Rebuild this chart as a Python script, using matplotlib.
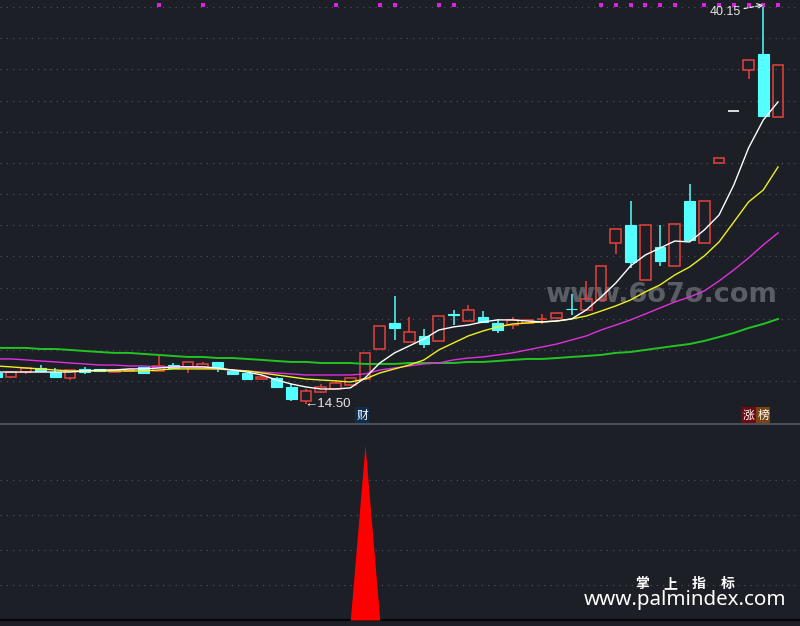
import numpy as np
import matplotlib.pyplot as plt
from matplotlib.patches import Rectangle
import matplotlib.transforms as mtransforms

plt.rcParams['font.family'] = ['Noto Sans CJK SC', 'DejaVu Sans']

# daily bars, oldest first (the first one is cut by the left edge)
opens = [16.50, 16.24, 16.56, 16.82, 16.56, 16.18, 16.76, 16.76, 16.56, 16.63,
         16.89, 16.63, 17.04, 16.89, 16.89, 17.21, 16.63, 16.50, 16.11, 16.18,
         15.60, 14.70, 15.28, 15.47, 15.73, 16.11, 18.04, 19.71, 18.49, 18.88,
         18.56, 20.26, 19.84, 20.10, 19.71, 19.58, 19.71, 19.95, 20.03, 20.64,
         20.55, 21.19, 24.85, 26.01, 22.48, 24.60, 23.38, 27.55, 24.85, 30.00,
         33.34, 35.97, 37.00, 32.95]
highs = [16.50, 16.56, 16.82, 17.01, 16.82, 16.69, 16.89, 16.76, 16.69, 16.69,
         16.89, 17.59, 17.14, 17.18, 17.21, 17.21, 16.63, 16.50, 16.37, 16.24,
         15.79, 15.47, 15.79, 16.05, 16.18, 17.79, 19.52, 21.45, 20.10, 19.33,
         20.16, 20.55, 20.87, 20.48, 19.97, 20.10, 19.91, 20.29, 20.36, 21.58,
         22.41, 23.38, 25.75, 27.55, 26.01, 26.01, 26.08, 28.65, 27.55, 30.32,
         33.34, 36.62, 40.15, 36.29]
lows = [16.24, 16.18, 16.44, 16.63, 16.24, 16.05, 16.44, 16.63, 16.56, 16.63,
        16.50, 16.63, 16.76, 16.50, 16.89, 16.56, 16.44, 16.05, 16.11, 15.54,
        14.70, 14.50, 15.22, 15.47, 15.73, 16.11, 18.04, 18.62, 18.49, 18.11,
        18.56, 19.58, 19.84, 19.71, 19.07, 19.33, 19.71, 19.65, 20.03, 20.23,
        20.55, 21.19, 24.15, 23.25, 22.48, 23.38, 23.38, 25.05, 24.85, 30.00,
        33.34, 35.39, 33.02, 32.95]
closes = [16.24, 16.56, 16.82, 16.63, 16.24, 16.69, 16.56, 16.63, 16.69, 16.69,
          16.50, 16.95, 16.82, 17.18, 17.08, 16.89, 16.44, 16.11, 16.24, 15.60,
          14.83, 15.34, 15.60, 15.86, 16.18, 17.79, 19.52, 19.39, 19.14, 18.36,
          20.16, 20.20, 20.55, 19.78, 19.26, 19.91, 19.91, 19.99, 20.36, 20.58,
          21.26, 23.38, 25.75, 23.63, 26.01, 23.70, 26.08, 25.05, 27.55, 30.32,
          33.34, 36.62, 33.02, 36.29]

# moving averages
ma5 = [16.56, 16.56, 16.56, 16.56, 16.56, 16.56, 16.63, 16.69, 16.69, 16.76,
       16.76, 16.82, 16.89, 16.89, 16.89, 16.82, 16.69, 16.56, 16.37, 16.05,
       15.79, 15.60, 15.47, 15.47, 15.54, 16.18, 17.14, 17.79, 18.24, 18.69,
       19.26, 19.46, 19.58, 19.78, 19.91, 19.91, 19.84, 19.78, 19.84, 19.97,
       20.55, 21.38, 22.28, 23.38, 24.08, 24.53, 24.98, 24.92, 25.69, 26.65,
       28.58, 30.96, 32.76, 33.92]
ma10 = [16.95, 16.89, 16.82, 16.76, 16.69, 16.63, 16.63, 16.63, 16.63, 16.63,
        16.63, 16.69, 16.76, 16.76, 16.76, 16.76, 16.69, 16.63, 16.50, 16.37,
        16.24, 16.11, 16.05, 15.99, 15.92, 16.11, 16.50, 16.76, 17.01, 17.34,
        17.98, 18.43, 18.88, 19.20, 19.46, 19.65, 19.71, 19.78, 19.84, 19.97,
        20.16, 20.48, 20.81, 21.19, 21.71, 22.16, 22.80, 23.31, 24.02, 24.92,
        26.20, 27.49, 28.26, 29.74]
ma20 = [17.40, 17.40, 17.34, 17.27, 17.21, 17.14, 17.08, 17.01, 17.01, 16.95,
        16.95, 16.89, 16.89, 16.89, 16.82, 16.76, 16.69, 16.63, 16.56, 16.50,
        16.44, 16.37, 16.37, 16.37, 16.37, 16.44, 16.69, 16.82, 16.95, 17.08,
        17.14, 17.34, 17.46, 17.53, 17.66, 17.79, 17.98, 18.17, 18.36, 18.62,
        18.88, 19.26, 19.58, 19.91, 20.29, 20.68, 21.06, 21.38, 21.77, 22.41,
        23.12, 23.89, 24.73, 25.50]
ma60 = [18.11, 18.11, 18.11, 18.04, 18.04, 17.98, 17.91, 17.85, 17.79, 17.79,
        17.72, 17.66, 17.59, 17.53, 17.53, 17.46, 17.46, 17.40, 17.34, 17.27,
        17.21, 17.21, 17.14, 17.14, 17.14, 17.08, 17.08, 17.08, 17.14, 17.14,
        17.14, 17.14, 17.21, 17.21, 17.27, 17.34, 17.40, 17.40, 17.46, 17.53,
        17.59, 17.66, 17.79, 17.85, 17.98, 18.11, 18.24, 18.36, 18.56, 18.81,
        19.07, 19.39, 19.65, 19.97]

# lower indicator: one spike on the breakout day
signal = [0] * 25 + [1] + [0] * 28
dot_days = [11, 14, 23, 26, 27, 30, 31, 41, 42, 43, 44, 45, 46, 48, 49, 50, 51, 52, 53]
tag_cai = 25
tag_zhang = 51
tag_bang = 52
brand_chars = ['掌', '上', '指', '标']

bg = '#1c1f26'
up_c = '#e8403a'
dn_c = '#54ffff'
grid_c = '#4a4e56'

fig = plt.figure(figsize=(8, 6.26), dpi=100, facecolor=bg)
ax = fig.add_axes([0, (626 - 424) / 626, 1, 424 / 626])
ax2 = fig.add_axes([0, 6 / 626, 1, (620 - 424) / 626])
for a in (ax, ax2):
    a.set_facecolor(bg)
    a.set_xticks([])
    a.set_yticks([])
    for s in a.spines.values():
        s.set_visible(False)

n = len(closes)
x = np.arange(n)
ax.set_xlim(0.25, 54.49)
ax.set_ylim(13.22, 40.47)
ax2.set_xlim(0.25, 54.49)
ax2.set_ylim(0, 1.12)

# dotted grid
for f in np.linspace(1 - 7 / 424, 1 - 381 / 424, 13):
    ax.plot([0, 1], [f, f], transform=ax.transAxes, color=grid_c, lw=0.9,
            ls=(0, (1, 4)), zorder=0)
for f in [140 / 196, 105 / 196, 70 / 196, 35 / 196]:
    ax2.plot([0, 1], [f, f], transform=ax2.transAxes, color=grid_c, lw=0.9,
             ls=(0, (1, 4)), zorder=0)

# watermark (sits under the candles and lines)
ax.text(661 / 800, 1 - 302 / 424, 'www.6o7o.com', transform=ax.transAxes,
        ha='center', va='baseline', fontsize=19.5, fontweight='bold',
        color='#5a5d63', family='DejaVu Sans', zorder=1)

w = 0.72
for i in range(n):
    o, h, l, c = opens[i], highs[i], lows[i], closes[i]
    if o == c:
        ax.hlines(o, i - w / 2, i + w / 2, color='white', lw=1.2, zorder=3)
        continue
    if c > o:
        ax.vlines(i, c, h, color=up_c, lw=1.1, zorder=2)
        ax.vlines(i, l, o, color=up_c, lw=1.1, zorder=2)
        ax.add_patch(Rectangle((i - w / 2, o), w, c - o, facecolor='none',
                               edgecolor=up_c, lw=1.1, zorder=2))
    else:
        ax.vlines(i, l, h, color=dn_c, lw=1.1, zorder=2)
        ax.add_patch(Rectangle((i - w / 2, c), w, o - c, facecolor=dn_c,
                               edgecolor=dn_c, lw=0.8, zorder=2))

ax.plot(x, ma60, color='#22c422', lw=1.4, zorder=4)
ax.plot(x, ma20, color='#e030e0', lw=1.0, zorder=4)
ax.plot(x, ma10, color='#f0f020', lw=1.0, zorder=4)
ax.plot(x, ma5, color='white', lw=1.0, zorder=4)

# signal dots along the top
top = mtransforms.blended_transform_factory(ax.transData, ax.transAxes)
ax.scatter(dot_days, [1 - 4.5 / 424] * len(dot_days), marker='s', s=7,
           color='#e020e0', transform=top, zorder=5, linewidths=0)

# high / low marks
hi = int(np.argmax(highs))
lo = int(np.argmin(lows))
ax.annotate(f'{highs[hi]:.2f}', xy=(hi, highs[hi]), xytext=(-22, -7),
            textcoords='offset pixels', ha='right', va='center', color='#e6e6e6',
            fontsize=9, family=['Liberation Sans', 'DejaVu Sans'],
            arrowprops=dict(arrowstyle='->', color='white', lw=0.8, ls='--',
                            shrinkA=0, shrinkB=0), zorder=6)
ax.annotate(f'←{lows[lo]:.2f}', xy=(lo, lows[lo]), xytext=(-2, 0),
            textcoords='offset pixels', ha='left', va='center', color='#e6e6e6',
            fontsize=9.5, family=['Liberation Sans', 'DejaVu Sans'], zorder=6)

# tags
ytag = 1 - 415 / 424
ax.text(tag_cai - 0.2, ytag, '财', transform=top, ha='center', va='center',
        color='white', fontsize=8.5,
        bbox=dict(boxstyle='square,pad=0.1', fc='#0b2d4e', ec='none'), zorder=6)
ax.text(tag_zhang, ytag, '涨', transform=top, ha='center', va='center',
        color='white', fontsize=8.5,
        bbox=dict(boxstyle='square,pad=0.1', fc='#6e0a14', ec='none'), zorder=6)
ax.text(tag_bang, ytag, '榜', transform=top, ha='center', va='center',
        color='white', fontsize=8.5,
        bbox=dict(boxstyle='square,pad=0.1', fc='#7a4412', ec='none'), zorder=6)

# lower panel
ax2.fill_between(x, 0, signal, color='#ff0000', lw=0, zorder=3)
ax2.spines['top'].set_visible(True)
ax2.spines['top'].set_color('#555a63')
ax2.spines['top'].set_linewidth(1.2)
ax2.spines['bottom'].set_visible(True)
ax2.spines['bottom'].set_color('#050505')
ax2.spines['bottom'].set_linewidth(1.5)

for k, ch in enumerate(brand_chars):
    fig.text((642 + 28.4 * k) / 800, 1 - 584 / 626, ch, ha='center', va='center',
             color='white', fontsize=10, fontweight='bold')
fig.text(685 / 800, 1 - 600 / 626, 'www.palmindex.com', ha='center', va='center',
         color='white', fontsize=14.8, family=['Noto Sans', 'DejaVu Sans'])

fig.savefig('out.png', dpi=100, facecolor=bg)
